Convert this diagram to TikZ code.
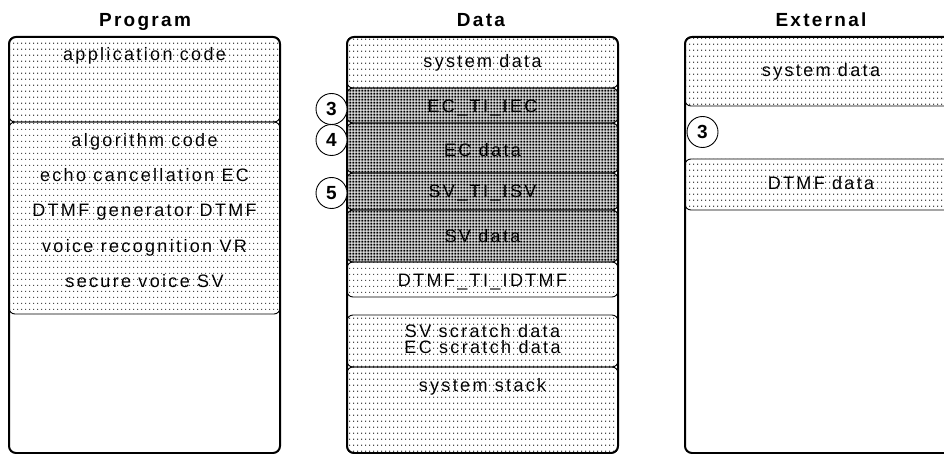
\documentclass[tikz,border=0pt]{standalone}
\usepackage{fontspec}
\setmainfont{Liberation Sans}[LetterSpace=13]
\newfontfamily\titlefont{Liberation Sans}[LetterSpace=12]
\newfontfamily\numfont{Liberation Sans}
\usetikzlibrary{patterns.meta}
\tikzdeclarepattern{name=lightdots, type=uncolored,
  bottom left={(0pt,0pt)}, top right={(4pt,5.7pt)}, tile size={(4pt,5.7pt)},
  code={\fill (1.4pt,2.2pt) rectangle (2.6pt,3.4pt);}}
\tikzdeclarepattern{name=densedots, type=uncolored,
  bottom left={(0pt,0pt)}, top right={(3.4pt,3.4pt)}, tile size={(3.4pt,3.4pt)},
  code={\fill (0.5pt,0.5pt) rectangle (2.7pt,2.7pt);}}
\tikzset{
  outerbox/.style={draw, line width=2pt, rounded corners=7pt},
  lightreg/.style={draw, line width=0.9pt, rounded corners=6pt, pattern=lightdots, pattern color=black!70},
  densereg/.style={draw, line width=0.9pt, rounded corners=6pt, pattern=densedots, pattern color=black},
  lbl/.style={font=\fontsize{18}{18}\selectfont, anchor=base, inner sep=0pt},
  ttl/.style={font=\titlefont\bfseries\fontsize{19}{19}\selectfont, anchor=base, inner sep=0pt},
  num/.style={circle, draw, line width=0.9pt, fill=white, minimum size=31pt, inner sep=0pt,
    font=\numfont\bfseries\fontsize{19}{19}\selectfont}
}
\begin{document}
\begin{tikzpicture}[x=1pt,y=-1pt]
\useasboundingbox (0,0) rectangle (944,454);
\clip (0,0) rectangle (944,454);
\fill[white] (0,0) rectangle (944,454);

% titles
\node[ttl] (tprog) at (145,27) {Program};
\node[ttl] (tdata) at (481,27) {Data};
\node[ttl] (text) at (821,27) {External};

% Program column
\draw[lightreg] (9,37) rectangle (280,122);
\draw[lightreg] (9,122) rectangle (280,314);
\draw[outerbox] (9,37) rectangle (280,453);
\node[lbl] (p1) at (144.5,61) {application code};
\node[lbl] (p2) at (144.5,147) {algorithm code};
\node[lbl] (p3) at (144.5,182) {echo cancellation EC};
\node[lbl] (p4) at (144.5,217) {DTMF generator DTMF};
\node[lbl] (p5) at (144.5,252) {voice recognition VR};
\node[lbl] (p6) at (144.5,287) {secure voice SV};

% Data column
\draw[lightreg] (347,37) rectangle (618,88);
\draw[densereg] (347,88) rectangle (618,123);
\draw[densereg] (347,123) rectangle (618,173);
\draw[densereg] (347,173) rectangle (618,210);
\draw[densereg] (347,210) rectangle (618,262);
\draw[lightreg] (347,262) rectangle (618,297);
\draw[lightreg] (347,315) rectangle (618,367);
\draw[lightreg] (347,367) rectangle (618,453);
\draw[outerbox] (347,37) rectangle (618,453);
\node[lbl] (d1) at (482.5,68) {system data};
\node[lbl] (d2) at (482.5,113) {EC\_TI\_IEC};
\node[lbl] (d3) at (482.5,157) {EC data};
\node[lbl] (d4) at (482.5,198) {SV\_TI\_ISV};
\node[lbl] (d5) at (482.5,243) {SV data};
\node[lbl] (d6) at (482.5,286) {DTMF\_TI\_IDTMF};
\node[lbl] (d7) at (482.5,337) {SV scratch data};
\node[lbl] (d8) at (482.5,353) {EC scratch data};
\node[lbl] (d9) at (482.5,391) {system stack};
\node[num] (c3) at (331.5,109) {3};
\node[num] (c4) at (331.5,140) {4};
\node[num] (c5) at (331.5,193) {5};

% External column
\draw[lightreg] (685,37) rectangle (957,106);
\draw[lightreg] (685,159) rectangle (957,210);
\draw[outerbox] (685,37) rectangle (957,453);
\node[lbl] (e1) at (821,77) {system data};
\node[lbl] (e2) at (821,190) {DTMF data};
\node[num] (e3) at (702.5,132) {3};
\end{tikzpicture}
\end{document}
